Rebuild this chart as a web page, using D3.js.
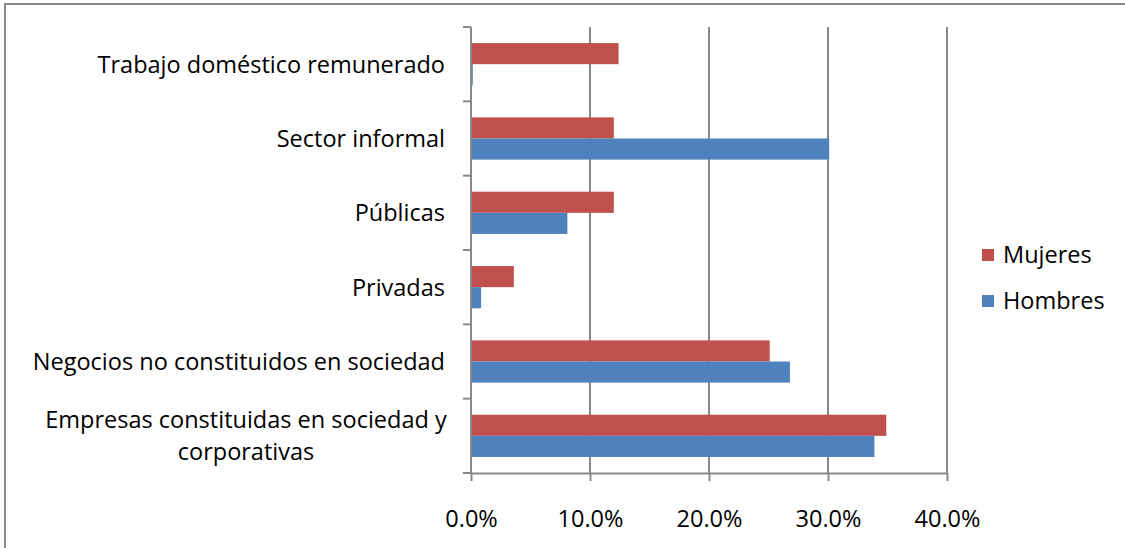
<!DOCTYPE html>
<html>
<head>
<meta charset="utf-8">
<script src="https://cdn.jsdelivr.net/npm/d3@7"></script>
<style>
  body { margin: 0; background: #fff; }
  text { font-family: "Open Sans", "Noto Sans", sans-serif; fill: #000; }
</style>
</head>
<body>
<div id="chart"></div>
<script>
// categories, top to bottom as in the chart
const categories = [
  "Trabajo doméstico remunerado",
  "Sector informal",
  "Públicas",
  "Privadas",
  "Negocios no constituidos en sociedad",
  "Empresas constituidas en sociedad y corporativas"
];
const series = ["Mujeres", "Hombres"];
const mujeres = [0.124, 0.120, 0.120, 0.036, 0.251, 0.349];
const hombres = [0.0015, 0.301, 0.081, 0.0085, 0.268, 0.339];
const xTicks = [0, 0.1, 0.2, 0.3, 0.4];
const colors = ["#C0504D", "#4F81BD"];

const W = 1125, H = 548;
const plot = {left: 471, right: 947, top: 27, bottom: 473};
const fs = 23.5;

const svg = d3.select("#chart")
  .append("svg")
    .attr("width", W)
    .attr("height", H);

// outer frame
svg.append("rect")
  .attr("x", 5).attr("y", 4)
  .attr("width", W + 10).attr("height", H + 10)
  .attr("fill", "#fff")
  .attr("stroke", "#8a8a8a")
  .attr("stroke-width", 2);

const x = d3.scaleLinear().domain([0, 0.4]).range([plot.left, plot.right]);
const y0 = d3.scaleBand().domain(categories).range([plot.top, plot.bottom]);
const y1 = d3.scaleBand().domain(series).range([0, y0.bandwidth()])
  .paddingInner(0).paddingOuter(0.76);

//gridlines
svg.selectAll(".grid")
  .data(xTicks.slice(1))
  .enter()
  .append("line")
    .attr("x1", d => x(d)).attr("x2", d => x(d))
    .attr("y1", plot.top).attr("y2", plot.bottom)
    .attr("stroke", "#888")
    .attr("stroke-width", 2);

// bars
const rows = categories.map((c, i) => ({cat: c, vals: [mujeres[i], hombres[i]]}));
const g = svg.selectAll(".cat")
  .data(rows)
  .enter()
  .append("g")
    .attr("transform", d => `translate(0, ${y0(d.cat)})`);
g.selectAll("rect")
  .data(d => d.vals.map((v, j) => ({s: series[j], v: v, j: j})))
  .enter()
  .append("rect")
    .attr("x", x(0))
    .attr("y", d => y1(d.s))
    .attr("width", d => x(d.v) - x(0))
    .attr("height", y1.bandwidth())
    .attr("fill", d => colors[d.j]);

// x axis
const xAxis = svg.append("g")
  .attr("transform", `translate(0, ${plot.bottom})`)
  .call(d3.axisBottom(x).tickValues(xTicks).tickFormat(d3.format(".1%")).tickSize(8).tickSizeOuter(0));
xAxis.select(".domain").attr("stroke", "#888").attr("stroke-width", 2);
xAxis.selectAll("line").attr("stroke", "#888").attr("stroke-width", 2);
xAxis.selectAll("text")
  .attr("y", 46).attr("dy", "0.36em")
  .attr("fill", "#000")
  .style("font-size", fs + "px")
  .style("font-family", "'Open Sans', sans-serif");

// y axis line + ticks at band boundaries
svg.append("line")
  .attr("x1", plot.left).attr("x2", plot.left)
  .attr("y1", plot.top).attr("y2", plot.bottom)
  .attr("stroke", "#888").attr("stroke-width", 2);
const bounds = categories.map(c => y0(c)).concat([plot.bottom]);
svg.selectAll(".ytick")
  .data(bounds)
  .enter()
  .append("line")
    .attr("x1", plot.left - 8).attr("x2", plot.left)
    .attr("y1", d => d).attr("y2", d => d)
    .attr("stroke", "#888").attr("stroke-width", 2);

// category labels (wrapped when too wide)
const labels = svg.selectAll(".lab")
  .data(categories)
  .enter()
  .append("text")
    .style("font-size", fs + "px")
    .attr("x", 445)
    .attr("text-anchor", "end")
    .attr("y", d => y0(d) + y0.bandwidth() / 2)
    .attr("dy", "0.36em")
    .text(d => d);

labels.each(function(d) {
  const t = d3.select(this);
  if (this.getComputedTextLength() <= 460) return;
  const words = d.split(" ");
  let line = [], lines = [];
  t.text("");
  const probe = t.append("tspan");
  words.forEach(w => {
    probe.text(line.concat([w]).join(" "));
    if (probe.node().getComputedTextLength() > 430 && line.length) {
      lines.push(line.join(" "));
      line = [w];
    } else line.push(w);
  });
  lines.push(line.join(" "));
  probe.remove();
  const cx = 246, lh = 32;
  const cy = y0(d) + y0.bandwidth() / 2 - (lines.length - 1) * lh / 2;
  t.attr("text-anchor", "middle").attr("x", cx).attr("y", null).attr("dy", null);
  lines.forEach((l, i) => {
    t.append("tspan")
      .attr("x", cx)
      .attr("y", cy + i * lh)
      .attr("dy", "0.36em")
      .text(l);
  });
});

// legend
const leg = svg.selectAll(".leg")
  .data(series)
  .enter()
  .append("g")
    .attr("transform", (d, i) => `translate(982, ${255 + i * 46})`);
leg.append("rect")
  .attr("x", 0).attr("y", -6)
  .attr("width", 12).attr("height", 12)
  .attr("fill", (d, i) => colors[i]);
leg.append("text")
  .attr("x", 21).attr("y", 0).attr("dy", "0.36em")
  .style("font-size", fs + "px")
  .text(d => d);
</script>
</body>
</html>
